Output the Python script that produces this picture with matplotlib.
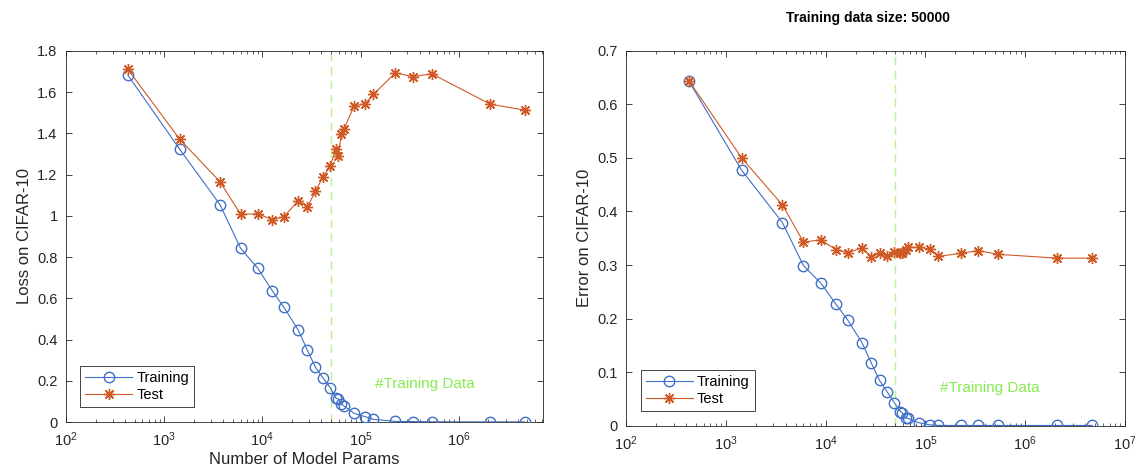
import matplotlib
matplotlib.use("Agg")
import matplotlib.pyplot as plt
from matplotlib.ticker import LogLocator, FormatStrFormatter, NullFormatter

plt.rcParams['font.family'] = ['Liberation Sans', 'DejaVu Sans']
plt.rcParams['mathtext.fontset'] = 'custom'
plt.rcParams['mathtext.rm'] = 'Liberation Sans'
plt.rcParams['mathtext.it'] = 'Liberation Sans:italic'

# number of model parameters (shared by both panels)
params = [427, 1440, 3700, 6000, 9000, 12600, 16600, 23200, 28800, 34700,
          41200, 49000, 56200, 58900, 63800, 67600, 86100, 111000, 135000,
          226000, 339000, 533000, 2090000, 4680000]

# loss on CIFAR-10
loss_train = [1.683, 1.323, 1.055, 0.843, 0.745, 0.637, 0.556, 0.446, 0.347,
              0.266, 0.215, 0.167, 0.115, 0.113, 0.086, 0.078, 0.042, 0.026,
              0.013, 0.003, 0.002, 0.001, 0.0005, 0.0005]
loss_test = [1.711, 1.372, 1.166, 1.008, 1.010, 0.982, 0.996, 1.073, 1.044,
             1.120, 1.187, 1.240, 1.326, 1.289, 1.395, 1.420, 1.534, 1.544,
             1.589, 1.694, 1.676, 1.689, 1.542, 1.513]

# error on CIFAR-10
err_train = [0.643, 0.477, 0.379, 0.299, 0.266, 0.228, 0.198, 0.155, 0.117,
             0.085, 0.064, 0.043, 0.027, 0.024, 0.015, 0.014, 0.006, 0.002,
             0.001, 0.001, 0.001, 0.001, 0.001, 0.001]
err_test = [0.644, 0.500, 0.412, 0.343, 0.347, 0.329, 0.323, 0.332, 0.315,
            0.322, 0.317, 0.325, 0.322, 0.323, 0.328, 0.333, 0.333, 0.330,
            0.316, 0.322, 0.327, 0.320, 0.313, 0.313]

n_train_data = 50000
title = "Training data size: 50000"

BLUE = '#3f6fc6'
ORANGE = '#cf5a26'
GREEN_LINE = '#b9f28e'
GREEN_TEXT = '#86ec4e'
AX_COLOR = '#262626'

fig = plt.figure(figsize=(11.35, 4.73), dpi=100)
ax1 = fig.add_axes([0.0581, 0.1078, 0.4203, 0.7844])
ax2 = fig.add_axes([0.5515, 0.0994, 0.4397, 0.7938])


def style_panel(ax, xmax, ymax, yticks, text_y):
    ax.set_xscale('log')
    ax.set_xlim(100, xmax)
    ax.set_ylim(0, ymax)
    ax.set_yticks(yticks)
    ax.yaxis.set_major_formatter(FormatStrFormatter('%g'))
    ax.xaxis.set_major_locator(LogLocator(base=10, numticks=10))
    ax.xaxis.set_minor_locator(LogLocator(base=10, subs=range(2, 10), numticks=20))
    ax.xaxis.set_minor_formatter(NullFormatter())
    ax.tick_params(which='both', direction='in', top=True, right=True,
                   colors=AX_COLOR, labelsize=10.5, pad=6)
    ax.tick_params(which='major', length=4.5, width=0.6)
    ax.tick_params(which='minor', length=2.5, width=0.5)
    for s in ax.spines.values():
        s.set_color(AX_COLOR)
        s.set_linewidth(0.6)
    ax.axvline(n_train_data, color=GREEN_LINE, linestyle=(0, (6, 4)), lw=1.0, zorder=1)
    ax.text(1.4e5, text_y, '#Training Data', color=GREEN_TEXT, fontsize=11,
            ha='left', va='center')


def draw_series(ax, train, test):
    ax.plot(params, train, color=BLUE, lw=0.8, marker='o', ms=7.5,
            mfc='none', mec=BLUE, mew=1.0, label='Training', zorder=3)
    ax.plot(params, test, color=ORANGE, lw=0.8, marker=(8, 2, 0), ms=8,
            mec=ORANGE, mew=1.0, label='Test', zorder=3)
    leg = ax.legend(loc='lower left', bbox_to_anchor=(0.03, 0.04),
                    borderaxespad=0, fancybox=False, framealpha=1,
                    edgecolor=AX_COLOR, fontsize=10.5, handlelength=3.2,
                    borderpad=0.35, labelspacing=0.2, handletextpad=0.3)
    leg.get_frame().set_linewidth(0.6)


style_panel(ax1, 7.2e6, 1.8, [0, 0.2, 0.4, 0.6, 0.8, 1, 1.2, 1.4, 1.6, 1.8], 0.185)
draw_series(ax1, loss_train, loss_test)
ax1.set_ylabel('Loss on CIFAR-10', fontsize=12, color=AX_COLOR, labelpad=4)
ax1.set_xlabel('Number of Model Params', fontsize=12, color=AX_COLOR, labelpad=2)

style_panel(ax2, 1e7, 0.7, [0, 0.1, 0.2, 0.3, 0.4, 0.5, 0.6, 0.7], 0.071)
draw_series(ax2, err_train, err_test)
ax2.set_ylabel('Error on CIFAR-10', fontsize=12, color=AX_COLOR, labelpad=4)

fig.text(868 / 1135, 1 - 18 / 473, title, fontsize=10, fontweight='bold',
         ha='center', va='center', color='black')

fig.savefig('out.png', dpi=100)
